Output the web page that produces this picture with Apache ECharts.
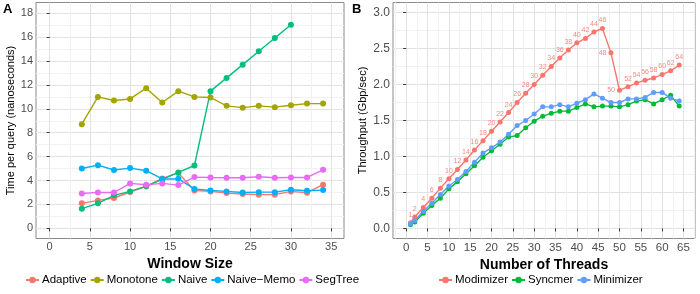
<!DOCTYPE html>
<html>
<head>
<meta charset="utf-8">
<script src="https://cdn.jsdelivr.net/npm/echarts@6/dist/echarts.min.js"></script>
<style>
  html, body { margin: 0; padding: 0; background: #fff; }
  #chart { width: 700px; height: 294px; }
</style>
</head>
<body>
<div id="chart"></div>
<script>
// panel A: time per query vs window size
const windowSize = [4, 6, 8, 10, 12, 14, 16, 18, 20, 22, 24, 26, 28, 30, 32, 34];
const adaptive = [2.09, 2.34, 2.54, 3.04, 3.51, 4.18, 4.64, 3.17, 3.09, 2.95, 2.87, 2.82, 2.82, 3.09, 2.98, 3.65];
const monotone = [8.72, 11.0, 10.7, 10.83, 11.73, 10.53, 11.48, 11.0, 10.95, 10.25, 10.1, 10.25, 10.14, 10.3, 10.44, 10.44];
const naive = [1.65, 2.09, 2.76, 3.09, 3.54, 4.1, 4.68, 5.26, 11.48, 12.59, 13.7, 14.82, 15.93, 17.04]; // up to 30
const naiveMemo = [5.01, 5.29, 4.88, 5.04, 4.82, 4.13, 4.14, 3.3, 3.17, 3.09, 3.0, 3.03, 3.03, 3.23, 3.15, 3.2];
const segTree = [2.92, 3.01, 3.0, 3.76, 3.65, 3.76, 3.62, 4.29, 4.26, 4.24, 4.24, 4.32, 4.24, 4.26, 4.26, 4.9];

// panel B: throughput vs threads
const threads = [1, 2, 4, 6, 8, 10, 12, 14, 16, 18, 20, 22, 24, 26, 28, 30, 32, 34, 36, 38, 40, 42, 44, 46, 48, 50, 52, 54, 56, 58, 60, 62, 64];
const modimizer = [0.08, 0.16, 0.29, 0.42, 0.56, 0.69, 0.82, 0.95, 1.09, 1.22, 1.35, 1.48, 1.61, 1.75, 1.88, 2.0, 2.13, 2.25, 2.37, 2.48, 2.58, 2.64, 2.73, 2.78, 2.44, 1.92, 1.97, 2.02, 2.06, 2.09, 2.14, 2.19, 2.27];
const syncmer = [0.05, 0.09, 0.21, 0.32, 0.42, 0.55, 0.65, 0.76, 0.87, 0.99, 1.08, 1.17, 1.27, 1.29, 1.4, 1.49, 1.56, 1.6, 1.63, 1.63, 1.68, 1.73, 1.69, 1.7, 1.7, 1.69, 1.72, 1.77, 1.79, 1.73, 1.79, 1.85, 1.7];
const minimizer = [0.06, 0.11, 0.24, 0.35, 0.47, 0.59, 0.68, 0.79, 0.92, 1.05, 1.12, 1.2, 1.31, 1.43, 1.5, 1.59, 1.69, 1.69, 1.72, 1.69, 1.74, 1.79, 1.87, 1.81, 1.75, 1.75, 1.8, 1.8, 1.82, 1.89, 1.89, 1.81, 1.77];

// tick labels
const timeTicks = [0, 2, 4, 6, 8, 10, 12, 14, 16, 18];
const windowTicks = [0, 5, 10, 15, 20, 25, 30, 35];
const tputTicks = [0, 0.5, 1.0, 1.5, 2.0, 2.5, 3.0];
const threadTicks = [0, 5, 10, 15, 20, 25, 30, 35, 40, 45, 50, 55, 60, 65];

const FONT = "Liberation Sans";

// minor grid lines sit halfway between major ticks (plus one step outside)
function minors(ticks) {
  const step = ticks[1] - ticks[0];
  const out = [ticks[0] - step / 2];
  ticks.forEach(t => out.push(t + step / 2));
  return out;
}

function majorAxis(gridIndex, min, max, ticks, opt) {
  return {
    type: "value",
    gridIndex: gridIndex,
    min: min,
    max: max,
    axisLine: { show: false },
    axisTick: { show: true, length: 3, lineStyle: { color: "#333" }, customValues: ticks },
    axisLabel: {
      customValues: ticks,
      color: "#4d4d4d",
      fontFamily: FONT,
      fontSize: opt.fontSize,
      margin: 3,
      formatter: opt.formatter
    },
    splitLine: { show: true, lineStyle: { color: "#e2e2e2", width: 1 } },
    name: opt.name,
    nameLocation: "middle",
    nameGap: opt.nameGap,
    nameTextStyle: opt.nameStyle
  };
}

function minorAxis(gridIndex, min, max, ticks) {
  return {
    type: "value",
    gridIndex: gridIndex,
    min: min,
    max: max,
    axisLine: { show: false },
    axisTick: { show: false, customValues: ticks },
    axisLabel: { show: false, customValues: ticks },
    splitLine: { show: true, lineStyle: { color: "#f1f1f1", width: 1 } }
  };
}

const xTitle = { fontFamily: FONT, fontSize: 14, fontWeight: "bold", color: "#000" };
const yTitle = { fontFamily: FONT, fontSize: 11, color: "#000" };

function lineSeries(name, color, xs, ys, ax, size) {
  return {
    name: name,
    type: "line",
    xAxisIndex: ax,
    yAxisIndex: ax,
    data: ys.map((v, i) => [xs[i], v]),
    symbol: "circle",
    symbolSize: size,
    lineStyle: { color: color, width: 1.4 },
    itemStyle: { color: color },
    emphasis: { disabled: true }
  };
}

function legend(left, names) {
  return {
    left: left, top: 274, padding: 0, itemGap: 3, itemWidth: 13, itemHeight: 8,
    textStyle: { fontFamily: FONT, fontSize: 11.5, color: "#000", padding: [0, 0, 0, -2] },
    data: names
  };
}

const chart = echarts.init(document.getElementById("chart"), null, { renderer: "canvas" });

const modSeries = lineSeries("Modimizer", "#F8766D", threads, modimizer, 2, 5);
// thread count printed on each point, 48 and 50 to the side
modSeries.data = threads.map((t, i) => ({
  value: [t, modimizer[i]],
  label: { position: (t === 48 || t === 50) ? "left" : "top" }
}));
modSeries.label = {
  show: true,
  formatter: p => p.value[0],
  fontFamily: FONT,
  fontSize: 7,
  color: "#f58a82",
  distance: 2
};

chart.setOption({
  animation: false,
  graphic: [
    { type: "text", left: 3, top: 3, style: { text: "A", font: "bold 13px " + FONT, fill: "#000" } },
    { type: "text", left: 352, top: 3, style: { text: "B", font: "bold 13px " + FONT, fill: "#000" } }
  ],
  grid: [
    { left: 36, top: 2.5, width: 308, height: 236, show: true, borderColor: "#8a8a8a", borderWidth: 1 },
    { left: 393, top: 2.5, width: 302, height: 236, show: true, borderColor: "#8a8a8a", borderWidth: 1 }
  ],
  xAxis: [
    majorAxis(0, -1.7, 36.6, windowTicks, { fontSize: 11, name: "Window Size", nameGap: 17, nameStyle: xTitle }),
    minorAxis(0, -1.7, 36.6, minors(windowTicks)),
    majorAxis(1, -3.1, 67.7, threadTicks, { fontSize: 11.5, name: "Number of Threads", nameGap: 17, nameStyle: xTitle }),
    minorAxis(1, -3.1, 67.7, minors(threadTicks))
  ],
  yAxis: [
    majorAxis(0, -0.85, 18.9, timeTicks, { fontSize: 11, name: "Time per query (nanoseconds)", nameGap: 19, nameStyle: yTitle }),
    minorAxis(0, -0.85, 18.9, minors(timeTicks)),
    majorAxis(1, -0.14, 3.14, tputTicks, { fontSize: 12, formatter: v => v.toFixed(1), name: "Throughput (Gbp/sec)", nameGap: 25, nameStyle: yTitle }),
    minorAxis(1, -0.14, 3.14, minors(tputTicks))
  ],
  legend: [
    legend(25, ["Adaptive", "Monotone", "Naive", "Naive\u2212Memo", "SegTree"]),
    legend(438, ["Modimizer", "Syncmer", "Minimizer"])
  ],
  series: [
    lineSeries("Adaptive", "#F8766D", windowSize, adaptive, 0, 6),
    lineSeries("Monotone", "#A3A500", windowSize, monotone, 0, 6),
    lineSeries("Naive", "#00BF7D", windowSize, naive, 0, 6),
    lineSeries("Naive\u2212Memo", "#00B0F6", windowSize, naiveMemo, 0, 6),
    lineSeries("SegTree", "#E76BF3", windowSize, segTree, 0, 6),
    modSeries,
    lineSeries("Syncmer", "#00BA38", threads, syncmer, 2, 5),
    lineSeries("Minimizer", "#619CFF", threads, minimizer, 2, 5)
  ]
});
</script>
</body>
</html>
